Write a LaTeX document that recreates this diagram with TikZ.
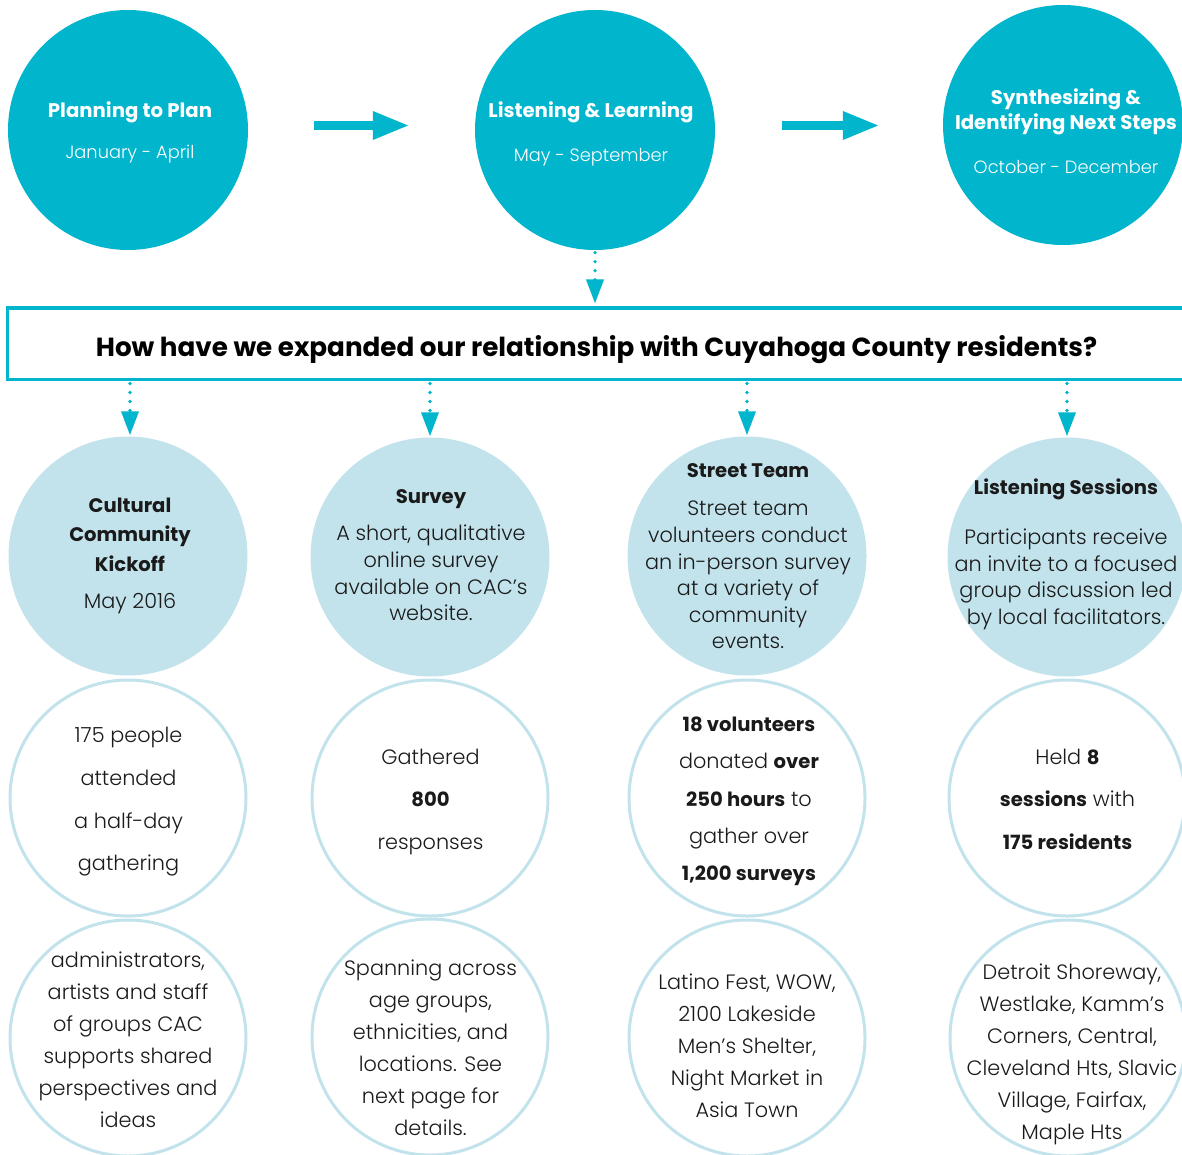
\documentclass[tikz,border=0pt]{standalone}
\usepackage{fontspec}
\setmainfont{Poppins}[UprightFont=* Light, BoldFont=* Bold]
\usetikzlibrary{arrows.meta}
\definecolor{teal1}{HTML}{00B5CC}
\definecolor{pale}{HTML}{C2E3EC}
\definecolor{ink}{HTML}{1A1A1A}
\newcommand\bb[1]{{\fontsize{19.6}{20}\selectfont\bfseries #1}}
\begin{document}
\begin{tikzpicture}[x=1pt,y=-1pt,
  phase/.style={circle, fill=teal1, minimum size=240pt, inner sep=0pt},
  method/.style={circle, fill=pale, minimum size=239pt, inner sep=0pt},
  stat/.style={circle, draw=pale, line width=3pt, fill=white, minimum size=236pt, inner sep=0pt},
  phasetext/.style={align=center, text=white, inner sep=0pt, font=\fontsize{19.7}{25}\selectfont},
  body/.style={align=center, text=ink, inner sep=0pt, font=\fontsize{20.8}{26.6}\selectfont},
  bigarrow/.style={draw=teal1, line width=9pt, -{Triangle[length=37pt,width=26pt]}},
  dotarrow/.style={draw=teal1, line width=3.6pt, line cap=round, dash pattern=on 0pt off 9pt,
                   -{Triangle[length=24pt,width=17pt]}},
  bannerbox/.style={draw=teal1, line width=3pt, fill=white, minimum width=1179pt, minimum height=71pt, inner sep=0pt}
]
\useasboundingbox (0,0) rectangle (1182,1155);
\fill[white] (0,0) rectangle (1182,1155);

% phase circles
\node[phase] (p1) at (128,130) {};
\node[phase] (p2) at (595,130) {};
\node[phase] (p3) at (1063,125) {};
\node[phasetext] (p1t) at (130,132) {\textbf{Planning to Plan}\\[16pt]{\fontsize{17.8}{20}\selectfont January - April}};
\node[phasetext] (p2t) at (591,133.5) {\textbf{Listening \& Learning}\\[19pt]{\fontsize{17.8}{20}\selectfont May - September}};
\node[phasetext] (p3t) at (1066,131) {\textbf{Synthesizing \&}\\\textbf{Identifying Next Steps}\\[19pt]{\fontsize{17.8}{20}\selectfont October - December}};

\draw[bigarrow, shorten <=66pt, shorten >=65pt] ([yshift=4.5pt]p1.east) -- ([yshift=4.5pt]p1.east -| p2.west);
\draw[bigarrow, shorten <=67pt, shorten >=63pt] ([yshift=4.5pt]p2.east) -- ([yshift=4.5pt]p2.east -| p3.west);

% banner
\node[bannerbox] (banner) at (596.5,343.5) {};
\node[inner sep=0pt, text=black, font=\fontsize{26.2}{30}\selectfont\bfseries] (bannert) at (596.5,350)
  {How have we expanded our relationship with Cuyahoga County residents?};
\draw[dotarrow, shorten <=2.5pt, shorten >=3pt] (p2.south) -- (p2.south |- banner.north);

% method circles
\node[method] (m1) at (128,556) {};
\node[method] (m2) at (430,557) {};
\node[method] (m3) at (747,556) {};
\node[method] (m4) at (1067,557) {};

\draw[dotarrow, shorten <=3pt, shorten >=1pt] ([xshift=2pt]banner.south -| m1) -- ([xshift=2pt]m1.north);
\foreach \m in {m2,m3,m4}
  \draw[dotarrow, shorten <=3pt, shorten >=1pt] (banner.south -| \m) -- (\m.north);

\node[body] (m1t) at (130,555.5) {\bb{Cultural}\\[2.9pt]\bb{Community}\\[2.9pt]\bb{Kickoff}\\[10.4pt]May 2016};
\node[body] (m2t) at (431,555.5) {\bb{Survey}\\[10.4pt]A short, qualitative\\online survey\\available on CAC’s\\website.};
\node[body] (m3t) at (748,556.5) {\bb{Street Team}\\[11.4pt]Street team\\volunteers conduct\\an in-person survey\\at a variety of\\community\\events.};
\node[body] (m4t) at (1066,554.5) {\bb{Listening Sessions}\\[23.4pt]Participants receive\\an invite to a focused\\group discussion led\\by local facilitators.};

% stat circles
\node[stat] (s1) at (128,798) {};
\node[stat] (s2) at (430,798) {};
\node[stat] (s3) at (747,798) {};
\node[stat] (s4) at (1067,798) {};

\node[body, font=\fontsize{20.8}{42.7}\selectfont] (s1t) at (128.5,802) {175 people\\attended\\a half-day\\gathering};
\node[body, font=\fontsize{20.8}{42.5}\selectfont] (s2t) at (430.5,801.5) {Gathered\\\bb{800}\\responses};
\node[body, font=\fontsize{20.8}{37.3}\selectfont] (s3t) at (749,801.5) {\bb{18 volunteers}\\donated \bb{over}\\\bb{250 hours} to\\gather over\\\bb{1,200 surveys}};
\node[body, font=\fontsize{20.8}{42.5}\selectfont] (s4t) at (1067.5,799) {Held \bb{8}\\\bb{sessions} with\\\bb{175 residents}};

% detail circles
\node[stat] (d1) at (128,1038) {};
\node[stat] (d2) at (430,1037) {};
\node[stat] (d3) at (747,1038) {};
\node[stat] (d4) at (1068,1038) {};

\node[body, font=\fontsize{20.8}{32}\selectfont] (d1t) at (128,1039.5) {administrators,\\artists and staff\\of groups CAC\\supports shared\\perspectives and\\ideas};
\node[body, font=\fontsize{20.8}{32}\selectfont] (d2t) at (430.5,1047.5) {Spanning across\\age groups,\\ethnicities, and\\locations. See\\next page for\\details.};
\node[body, font=\fontsize{20.8}{32}\selectfont] (d3t) at (747,1045.5) {Latino Fest, WOW,\\2100 Lakeside\\Men’s Shelter,\\Night Market in\\Asia Town};
\node[body, font=\fontsize{20.8}{32}\selectfont] (d4t) at (1072,1054) {Detroit Shoreway,\\Westlake, Kamm’s\\Corners, Central,\\Cleveland Hts, Slavic\\Village, Fairfax,\\Maple Hts};
\end{tikzpicture}
\end{document}
